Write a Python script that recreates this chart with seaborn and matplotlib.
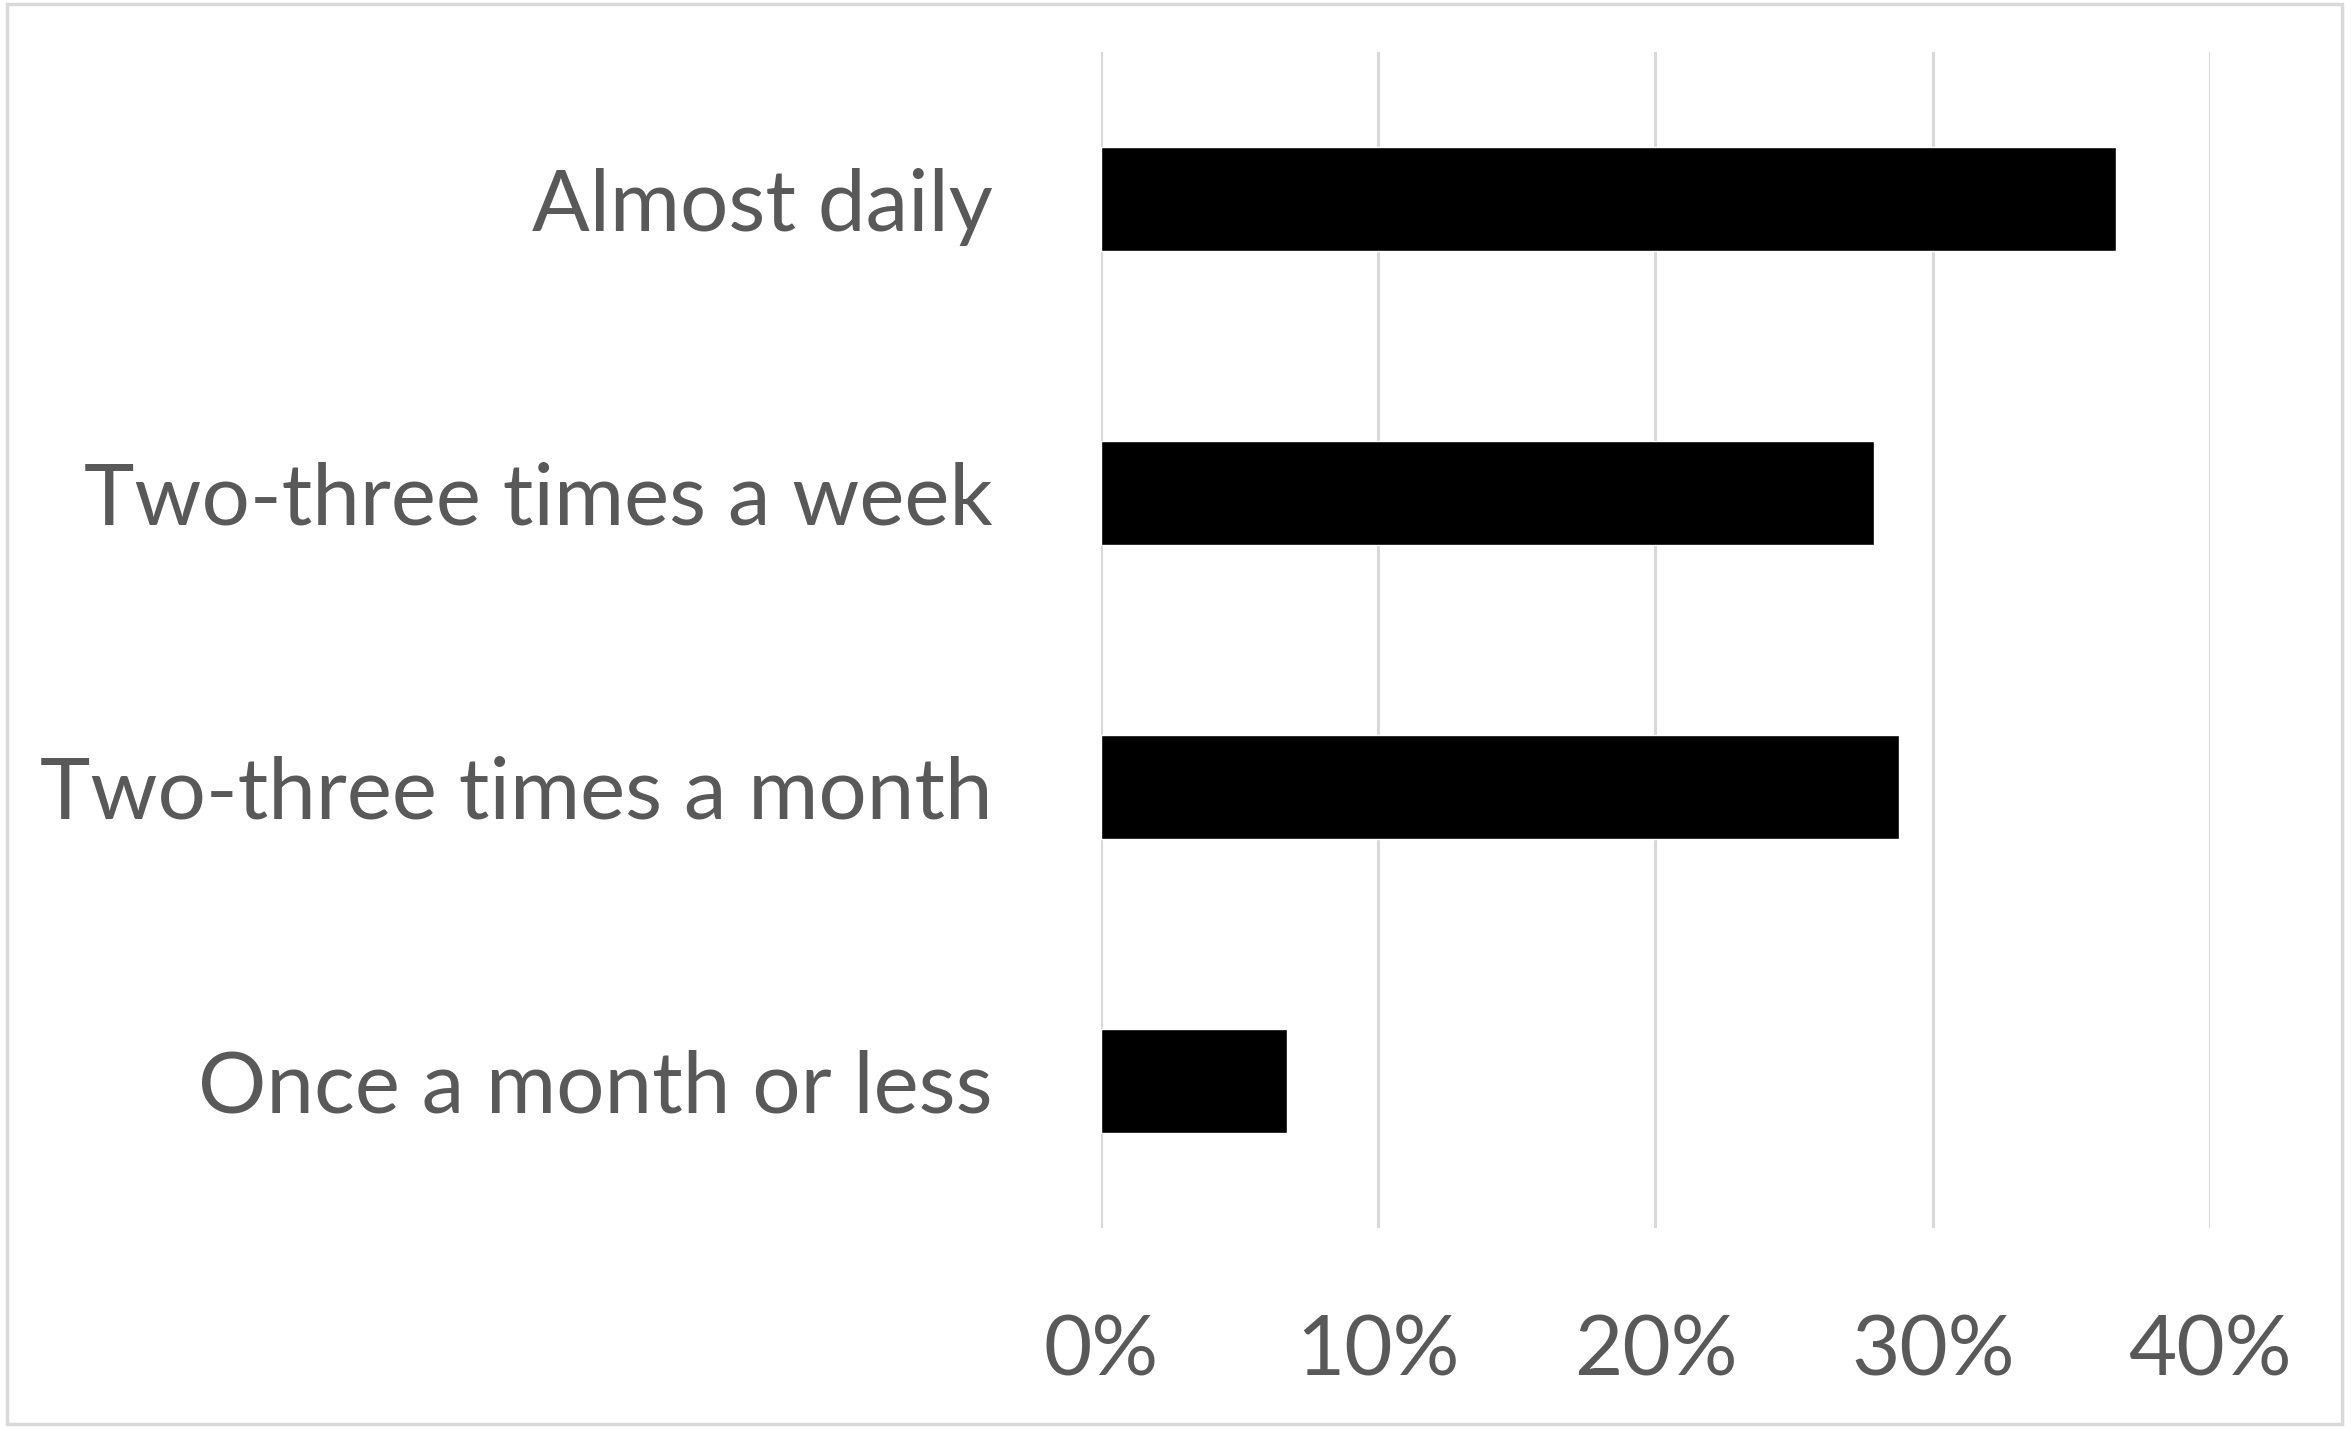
import matplotlib
matplotlib.use("Agg")
import matplotlib.pyplot as plt
import seaborn as sns
import pandas as pd
from matplotlib.patches import Rectangle
from matplotlib.ticker import PercentFormatter

# dados
categorias = ["Almost daily", "Two-three times a week", "Two-three times a month", "Once a month or less"]
valores = [36.6, 27.9, 28.8, 6.7]
ticks = [0, 10, 20, 30, 40]

df = pd.DataFrame({"freq": categorias, "pct": valores})

sns.set_theme(style="white")
plt.rcParams["font.family"] = ["Lato", "DejaVu Sans"]

fig = plt.figure(figsize=(23.51, 14.30), dpi=100)
ax = fig.add_axes([0.4683, 0.1413, 0.4717, 0.8223])

sns.barplot(data=df, x="pct", y="freq", color="black", width=0.354,
            saturation=1, ax=ax, zorder=3)

ax.set_xlim(0, 40)
ax.set_xticks(ticks)
ax.xaxis.set_major_formatter(PercentFormatter(decimals=0))
ax.grid(axis="x", color="#d9d9d9", linewidth=2.2, zorder=0)
ax.set_axisbelow(True)
for s in ax.spines.values():
    s.set_visible(False)
ax.set_xlabel("")
ax.set_ylabel("")
ax.tick_params(axis="y", length=0, pad=78, labelsize=61.5, labelcolor="#595959")
ax.tick_params(axis="x", length=0, pad=62, labelsize=60, labelcolor="#595959")
for lbl in ax.get_yticklabels():
    lbl.set_va("center_baseline")

# moldura do gráfico
fig.patches.append(Rectangle((0.003, 0.004), 0.993, 0.993, transform=fig.transFigure,
                             fill=False, edgecolor="#d9d9d9", linewidth=2.5))

fig.savefig("out.png", dpi=100, facecolor="white")
